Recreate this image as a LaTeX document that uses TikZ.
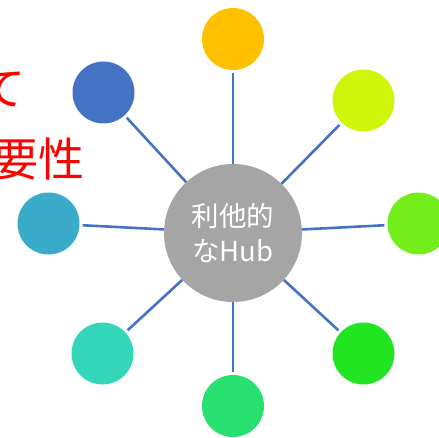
\documentclass[tikz,border=0pt]{standalone}
\usepackage{fontspec}
\newfontfamily\jpfont{Noto Sans CJK JP}
\definecolor{hubgray}{HTML}{A5A5A5}
\definecolor{linkblue}{HTML}{4472C4}
\definecolor{cOrange}{HTML}{FFC000}
\definecolor{cLime}{HTML}{CFF50B}
\definecolor{cGreenA}{HTML}{74EE1A}
\definecolor{cGreenB}{HTML}{22E522}
\definecolor{cGreenC}{HTML}{28E070}
\definecolor{cTeal}{HTML}{33D6B8}
\definecolor{cCyan}{HTML}{3AACCA}
\definecolor{cBlue}{HTML}{4472C4}
\tikzset{
  sat/.style={circle, fill=#1, minimum size=62pt, inner sep=0pt},
  hubnode/.style={circle, fill=hubgray, minimum size=138pt, inner sep=0pt, text=white, align=center, font=\jpfont\fontsize{27.5}{35}\selectfont},
  link/.style={draw=linkblue, line width=2.6pt, shorten >=3pt},
  redtext/.style={text=red, inner sep=0pt, font=\jpfont\fontsize{46}{50}\selectfont}
}
\begin{document}
\begin{tikzpicture}[x=1pt,y=-1pt]
\useasboundingbox (0,0) rectangle (439,438);
\node[hubnode] (hub) at (233,233) {利他的\\なHub};
\node[sat=cOrange] (s1) at (233,39) {};
\node[sat=cLime] (s2) at (363.5,100.5) {};
\node[sat=cGreenA] (s3) at (418.5,223.5) {};
\node[sat=cGreenB] (s4) at (363.5,353.5) {};
\node[sat=cGreenC] (s5) at (233,406) {};
\node[sat=cTeal] (s6) at (102.5,353.5) {};
\node[sat=cCyan] (s7) at (48.5,223.5) {};
\node[sat=cBlue] (s8) at (103.5,92.5) {};
\foreach \s in {s1,s2,s3,s4,s5,s6,s7,s8}{
  \draw[link] (hub) -- (\s);
}
\node[redtext] (t1) at (3,89) {て};
\node[redtext] (t2) at (39,159) {要性};
\end{tikzpicture}
\end{document}
